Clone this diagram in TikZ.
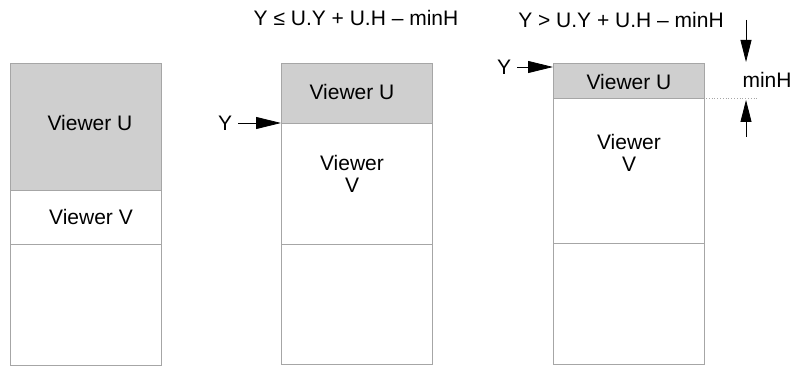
\documentclass[tikz,border=0pt]{standalone}
\usepackage{fontspec}
\setmainfont{Liberation Sans}
\usetikzlibrary{arrows.meta}
\begin{document}
\begin{tikzpicture}[x=1pt,y=-1pt,
  region/.style={draw=gray!70, line width=0.9pt, inner sep=0pt, anchor=north west, minimum width=151pt},
  shaded/.style={region, fill=gray!38},
  lbl/.style={font=\fontsize{21}{23}\selectfont, inner sep=0pt, align=center},
  arr/.style={line width=0.8pt, -{Triangle[length=25pt,width=12pt]}},
  ext/.style={draw=gray!70, line width=0.8pt, dotted}
]
\useasboundingbox (0,0) rectangle (791,366);
% panel 1
\node[shaded, minimum height=127pt] (u1) at (10,63) {};
\node[region, minimum height=54pt] (v1) at (10,190) {};
\node[region, minimum height=121pt] (w1) at (10,244) {};
\node[lbl] (tu1) at (90,123) {Viewer U};
\node[lbl] (tv1) at (91,217) {Viewer V};
% panel 2
\node[shaded, minimum height=60pt] (u2) at (281,63) {};
\node[region, minimum height=121pt] (v2) at (281,123) {};
\node[region, minimum height=120pt] (w2) at (281,244) {};
\node[lbl] (tu2) at (352,92) {Viewer U};
\node[lbl] (tv2) at (352,174) {Viewer\\[-1pt]V};
\node[lbl] (y2) at (225,123) {Y};
\draw[arr] (y2.east) ++(6,0) coordinate (y2s) (y2s) -- (v2.north west);
\node[lbl] (f2) at (356,18) {Y ≤ U.Y + U.H – minH};
% panel 3
\node[shaded, minimum height=35pt] (u3) at (553,63) {};
\node[region, minimum height=145pt] (v3) at (553,98) {};
\node[region, minimum height=121pt] (w3) at (553,243) {};
\node[lbl] (tu3) at (629,82) {Viewer U};
\node[lbl] (tv3) at (629,153) {Viewer\\[-1pt]V};
\node[lbl] (y3) at (504,67) {Y};
\coordinate (t3) at (553,67);
\draw[arr] (y3.east) ++(6,0) coordinate (y3s) (y3s) -- (t3);
\node[lbl] (f3) at (621,20) {Y > U.Y + U.H – minH};
% minH dimension
\coordinate (m1) at (746,20);
\coordinate (m2) at (746,62);
\coordinate (m3) at (746,137);
\coordinate (m4) at (746,100);
\coordinate (e1) at (706,98);
\coordinate (e2) at (757,98);
\draw[ext] (e1) -- (e2);
\draw[line width=0.8pt, -{Triangle[length=22pt,width=11pt]}] (m1) -- (m2);
\draw[line width=0.8pt, -{Triangle[length=22pt,width=11pt]}] (m3) -- (m4);
\node[lbl] (mh) at (767,80) {minH};
\end{tikzpicture}
\end{document}
